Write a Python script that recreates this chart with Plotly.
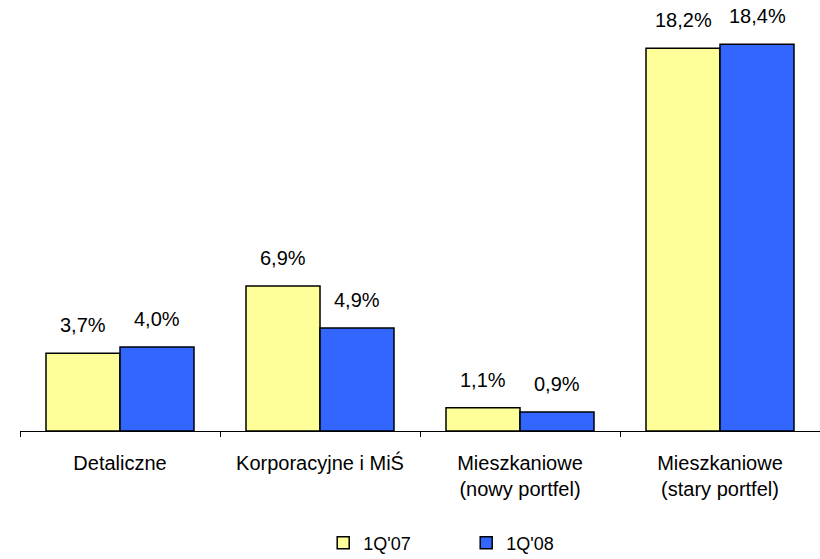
import plotly.graph_objects as go

categories = ["Detaliczne", "Korporacyjne i MiŚ",
              "Mieszkaniowe<br>(nowy portfel)", "Mieszkaniowe<br>(stary portfel)"]
series_names = ["1Q'07", "1Q'08"]
values_07 = [3.7, 6.9, 1.1, 18.2]
values_08 = [4.0, 4.9, 0.9, 18.4]
colors = ["#FFFF99", "#3366FF"]

FONT = "Liberation Sans, Arial, sans-serif"

def fmt(v):
    return f"{v:.1f}".replace(".", ",") + "%"

fig = go.Figure()
for name, vals, col in zip(series_names, [values_07, values_08], colors):
    fig.add_trace(go.Bar(
        x=categories, y=vals, name=name,
        marker=dict(color=col, line=dict(color="black", width=1.5)),
    ))

# value labels above each bar
for vals, shift in [(values_07, -37), (values_08, 37)]:
    for c, v in zip(categories, vals):
        fig.add_annotation(x=c, y=v, text=fmt(v), showarrow=False,
                           xshift=shift, yshift=15, yanchor="bottom",
                           font=dict(family=FONT, size=20, color="black"))

fig.update_layout(
    width=820, height=559,
    margin=dict(l=20, r=0, t=0, b=128, autoexpand=False),
    plot_bgcolor="white", paper_bgcolor="white",
    barmode="group", bargap=0.26, bargroupgap=0,
    font=dict(family=FONT, size=20, color="black"),
    showlegend=True,
    legend=dict(orientation="h", x=0.379, xanchor="left", y=-0.26, yanchor="middle",
                font=dict(family=FONT, size=18), traceorder="normal",
                itemclick=False, entrywidth=98),
)
fig.update_xaxes(showline=True, linecolor="black", linewidth=1,
                 ticks="outside", tickson="boundaries", ticklen=5, tickcolor="black",
                 ticklabelstandoff=14, showgrid=False, automargin=False)
fig.update_yaxes(range=[0, 20.5], visible=False, showgrid=False, automargin=False)

fig.write_html("out.html")
